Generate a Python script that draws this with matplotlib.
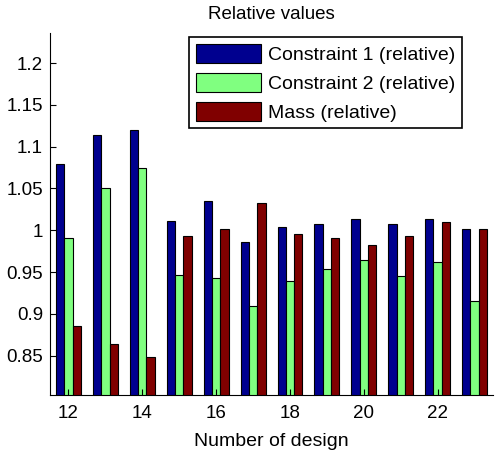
import numpy as np
import matplotlib
matplotlib.use("Agg")
import matplotlib.pyplot as plt

plt.rcParams['font.family'] = ['Liberation Sans', 'DejaVu Sans']

designs = [12, 13, 14, 15, 16, 17, 18, 19, 20, 21, 22, 23]
constraint1 = [1.079, 1.114, 1.120, 1.011, 1.035, 0.986, 1.004, 1.008, 1.013, 1.008, 1.013, 1.001]
constraint2 = [0.991, 1.051, 1.075, 0.947, 0.943, 0.910, 0.939, 0.954, 0.965, 0.945, 0.962, 0.915]
mass = [0.886, 0.864, 0.849, 0.993, 1.002, 1.033, 0.995, 0.991, 0.982, 0.993, 1.010, 1.001]
labels = ['Constraint 1 (relative)', 'Constraint 2 (relative)', 'Mass (relative)']
colors = ['#00008F', '#80FF80', '#800000']

fig = plt.figure(figsize=(4.97, 4.5), dpi=100)
ax = fig.add_axes([0.1006, 0.1222, 0.8914, 0.8045])

x = np.array(designs)
w = 0.225
base = 0.80
for k, vals in enumerate([constraint1, constraint2, mass]):
    ax.bar(x + (k - 1) * w, np.array(vals) - base, w, bottom=base,
           color=colors[k], edgecolor='black', linewidth=0.8, label=labels[k])

ax.set_xlim(11.5, 23.5)
ax.set_ylim(0.803, 1.236)
ax.set_xticks([12, 14, 16, 18, 20, 22])
ax.set_yticks([0.85, 0.9, 0.95, 1.0, 1.05, 1.1, 1.15, 1.2])
ax.set_yticklabels(['0.85', '0.9', '0.95', '1', '1.05', '1.1', '1.15', '1.2'])
ax.tick_params(direction='in', labelsize=13.5, length=4)
ax.tick_params(axis='x', pad=7)
ax.tick_params(axis='y', pad=5)
ax.spines['top'].set_visible(False)
ax.spines['right'].set_visible(False)

ax.set_title('Relative values', fontsize=13.5, pad=10)
ax.set_xlabel('Number of design', fontsize=14, labelpad=8)

leg = ax.legend(loc='upper right', bbox_to_anchor=(0.930, 0.989), fontsize=14,
                fancybox=False, framealpha=1, edgecolor='black',
                handlelength=3.35, handleheight=1.13, borderpad=0.35,
                labelspacing=0.45, handletextpad=0.35, borderaxespad=0)
leg.get_frame().set_linewidth(1.2)

fig.savefig('out.png', dpi=100)
